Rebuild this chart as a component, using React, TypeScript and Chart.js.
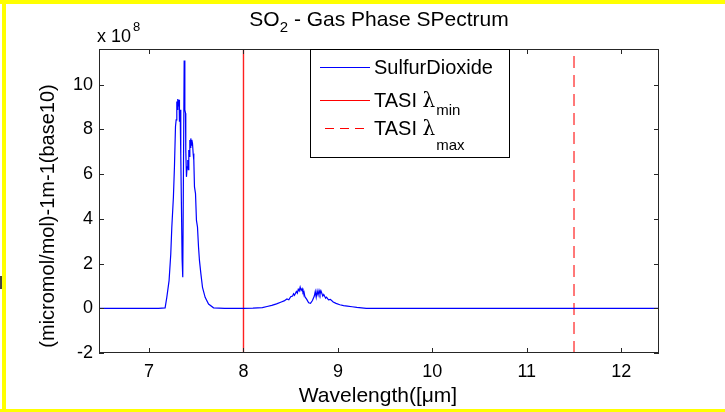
import React, { useEffect, useRef } from "react";
import { Chart, registerables } from "chart.js";

Chart.register(...registerables);

// ---- data (absorbance in units of 1e8) ----
const wavelength = [
  6.47, 7.1, 7.17, 7.188, 7.212, 7.23, 7.241, 7.258, 7.269, 7.28, 7.287, 7.294, 7.3, 7.304, 7.311,
  7.318, 7.322, 7.329, 7.336, 7.343, 7.35, 7.357, 7.372, 7.379, 7.386, 7.389, 7.396, 7.403, 7.41,
  7.416, 7.421, 7.426, 7.432, 7.437, 7.442, 7.448, 7.453, 7.46, 7.467, 7.474, 7.481, 7.492, 7.502,
  7.513, 7.524, 7.534, 7.549, 7.566, 7.594, 7.63, 7.683, 7.8, 8.0, 8.1, 8.2, 8.25, 8.3, 8.35, 8.4,
  8.43, 8.46, 8.48, 8.5, 8.52, 8.53, 8.54, 8.56, 8.57, 8.58, 8.59, 8.6, 8.61, 8.62, 8.63, 8.64,
  8.65, 8.67, 8.69, 8.71, 8.73, 8.75, 8.76, 8.77, 8.78, 8.79, 8.8, 8.81, 8.82, 8.84, 8.85, 8.87,
  8.88, 8.9, 8.92, 8.95, 8.98, 9.02, 9.06, 9.1, 9.15, 9.2, 9.25, 9.3, 12.4,
];
const absorbance = [
  0, 0, 0.02, 0.49, 1.24, 2.43, 3.63, 4.98, 6.33, 8.13, 8.43, 9.25, 8.9, 9.36, 9.03,
  9.33, 8.35, 8.88, 6.85, 4.53, 2.21, 1.39, 11.09, 8.88, 8.73, 7.08, 5.88, 6.33, 6.63,
  6.2, 7.08, 6.8, 7.53, 7.2, 7.6, 7.3, 7.53, 7.38, 6.93, 6.63, 5.43, 5.13, 3.93,
  3.63, 2.73, 2.13, 1.54, 0.94, 0.49, 0.19, 0.02, 0, 0, 0.01, 0.03, 0.08, 0.13, 0.2, 0.28,
  0.33, 0.42, 0.38, 0.52, 0.55, 0.65, 0.58, 0.75, 0.68, 0.85, 0.78, 0.95, 0.8, 0.88, 0.7, 0.75,
  0.52, 0.4, 0.25, 0.22, 0.35, 0.55, 0.75, 0.5, 0.78, 0.6, 0.8, 0.62, 0.78, 0.55, 0.62, 0.45,
  0.5, 0.38, 0.4, 0.28, 0.22, 0.16, 0.12, 0.1, 0.07, 0.04, 0.02, 0, 0,
];
const tasiMin = 8;
const tasiMax = 11.5;
const xTicks = [7, 8, 9, 10, 11, 12];
const yTicks = [-2, 0, 2, 4, 6, 8, 10];
const xLimits = [6.47, 12.4];
const yLimits = [-2, 11.6];
const exponent = "8";
const titleMain = "SO";
const titleSub = "2";
const titleRest = " - Gas Phase SPectrum";
const xLabel = "Wavelength([\u03bcm]";
const yLabel = "(micromol/mol)-1m-1(base10)";
const seriesNames = ["SulfurDioxide", "TASI", "TASI"];
const seriesSubs = ["", "min", "max"];

const SANS = '"Liberation Sans", Arial, Helvetica, sans-serif';
const FRAME = "#262626";

const overlay = {
  id: "overlay",
  afterDraw(chart: any) {
    const { ctx, chartArea: a, scales } = chart;
    const xs = scales.x;
    const ys = scales.y;
    ctx.save();
    // frame
    ctx.strokeStyle = FRAME;
    ctx.lineWidth = 1;
    ctx.strokeRect(a.left + 0.5, a.top + 0.5, a.right - a.left - 1, a.bottom - a.top - 1);
    // inward ticks
    ctx.beginPath();
    const tl = 5;
    xTicks.forEach((v) => {
      const px = Math.round(xs.getPixelForValue(v)) + 0.5;
      ctx.moveTo(px, a.bottom);
      ctx.lineTo(px, a.bottom - tl);
      ctx.moveTo(px, a.top);
      ctx.lineTo(px, a.top + tl);
    });
    yTicks.forEach((v) => {
      const py = Math.round(ys.getPixelForValue(v)) + 0.5;
      ctx.moveTo(a.left, py);
      ctx.lineTo(a.left + tl, py);
      ctx.moveTo(a.right, py);
      ctx.lineTo(a.right - tl, py);
    });
    ctx.stroke();

    ctx.fillStyle = "#000";
    ctx.textBaseline = "alphabetic";
    // title
    const cx = (a.left + a.right) / 2;
    ctx.font = `21px ${SANS}`;
    const w1 = ctx.measureText(titleMain).width;
    const w3 = ctx.measureText(titleRest).width;
    ctx.font = `15px ${SANS}`;
    const w2 = ctx.measureText(titleSub).width;
    const tx = cx - (w1 + w2 + w3) / 2;
    ctx.textAlign = "left";
    ctx.font = `21px ${SANS}`;
    ctx.fillText(titleMain, tx, 26);
    ctx.font = `15px ${SANS}`;
    ctx.fillText(titleSub, tx + w1, 32);
    ctx.font = `21px ${SANS}`;
    ctx.fillText(titleRest, tx + w1 + w2, 26);

    // exponent label
    ctx.font = `18px ${SANS}`;
    ctx.fillText("x 10", 97, 42);
    const wx = ctx.measureText("x 10").width;
    ctx.font = `13px ${SANS}`;
    ctx.fillText(exponent, 97 + wx + 2, 31);

    // x label
    ctx.font = `21px ${SANS}`;
    ctx.textAlign = "center";
    ctx.textBaseline = "middle";
    ctx.fillText(xLabel, cx - 1, 396);
    // y label
    ctx.font = `20px ${SANS}`;
    ctx.save();
    ctx.translate(48, 216);
    ctx.rotate(-Math.PI / 2);
    ctx.fillText(yLabel, 0, 0);
    ctx.restore();

    // legend
    const lx = 310, ly = 49, lw = 200, lh = 109;
    ctx.fillStyle = "#fff";
    ctx.fillRect(lx, ly, lw, lh);
    ctx.strokeStyle = "#000";
    ctx.strokeRect(lx + 0.5, ly + 0.5, lw - 1, lh - 1);
    const rows = [
      { y: 67, color: "#0000ff", dash: [] as number[] },
      { y: 100, color: "#ff0000", dash: [] as number[] },
      { y: 128, color: "#ff0000", dash: [9, 6] },
    ];
    rows.forEach((r, i) => {
      ctx.strokeStyle = r.color;
      ctx.setLineDash(r.dash);
      ctx.beginPath();
      ctx.moveTo(i === 2 ? 325 : 320, r.y + 0.5);
      ctx.lineTo(370, r.y + 0.5);
      ctx.stroke();
      ctx.setLineDash([]);
      ctx.fillStyle = "#000";
      ctx.textAlign = "left";
      ctx.textBaseline = "alphabetic";
      ctx.font = `20px ${SANS}`;
      const base = r.y + 7;
      ctx.fillText(seriesNames[i], 374, base);
      if (seriesSubs[i]) {
        let x = 374 + ctx.measureText(seriesNames[i] + " ").width;
        ctx.font = `20px "DejaVu Serif", "Liberation Serif", serif`;
        ctx.fillText("\u03bb", x, base);
        x += ctx.measureText("\u03bb").width + 1;
        ctx.font = `15px ${SANS}`;
        ctx.fillText(seriesSubs[i], x, base + (i === 2 ? 15 : 8));
      }
    });
    ctx.restore();
  },
};

export default function App() {
  const ref = useRef<HTMLCanvasElement | null>(null);
  useEffect(() => {
    if (!ref.current) return;
    const spectrum = wavelength.map((w, i) => ({ x: w, y: absorbance[i] }));
    const chart = new Chart(ref.current, {
      type: "line",
      data: {
        datasets: [
          {
            label: "SulfurDioxide",
            data: spectrum,
            borderColor: "#0000ff",
            borderWidth: 1.2,
            pointRadius: 0,
            tension: 0,
          },
          {
            label: "TASI min",
            data: [
              { x: tasiMin, y: yLimits[0] },
              { x: tasiMin, y: yLimits[1] },
            ],
            borderColor: "#ff2020",
            borderWidth: 1.4,
            pointRadius: 0,
          },
          {
            label: "TASI max",
            data: [
              { x: tasiMax, y: yLimits[0] },
              { x: tasiMax, y: yLimits[1] },
            ],
            borderColor: "#ff2020",
            borderWidth: 1.2,
            borderDash: [12, 7],
            pointRadius: 0,
          },
        ],
      },
      options: {
        responsive: false,
        animation: false,
        parsing: false as any,
        layout: { padding: { top: 49, right: 66, bottom: 0, left: 0 } },
        plugins: { legend: { display: false }, tooltip: { enabled: false }, title: { display: false } },
        scales: {
          x: {
            type: "linear",
            min: xLimits[0],
            max: xLimits[1],
            afterBuildTicks: (s: any) => {
              s.ticks = xTicks.map((v) => ({ value: v }));
            },
            afterFit: (s: any) => {
              s.height = 59;
            },
            grid: { display: false, drawTicks: false },
            border: { display: false },
            ticks: {
              color: "#000",
              font: { family: SANS, size: 18 },
              padding: 8,
              maxRotation: 0,
              callback: (v: any) => String(v),
            },
          },
          y: {
            type: "linear",
            min: yLimits[0],
            max: yLimits[1],
            afterBuildTicks: (s: any) => {
              s.ticks = yTicks.map((v) => ({ value: v }));
            },
            afterFit: (s: any) => {
              s.width = 99;
            },
            grid: { display: false, drawTicks: false },
            border: { display: false },
            ticks: {
              color: "#000",
              font: { family: SANS, size: 18 },
              padding: 6,
              callback: (v: any) => String(v),
            },
          },
        },
      },
      plugins: [overlay],
    });
    return () => chart.destroy();
  }, []);

  return (
    <div style={{ position: "fixed", left: 0, top: 0, width: 725, height: 412, background: "#fff", overflow: "hidden" }}>
      <canvas ref={ref} width={725} height={412} style={{ position: "absolute", left: 0, top: 0 }} />
      <div style={{ position: "absolute", left: 0, top: 0, width: 725, height: 4, background: "#ffff00" }} />
      <div style={{ position: "absolute", left: 2, top: 0, width: 4, height: 412, background: "#ffff00" }} />
      <div style={{ position: "absolute", left: 0, top: 409, width: 725, height: 3, background: "#ffff00" }} />
      <div style={{ position: "absolute", left: 0, top: 276, width: 2, height: 13, background: "#444" }} />
    </div>
  );
}
